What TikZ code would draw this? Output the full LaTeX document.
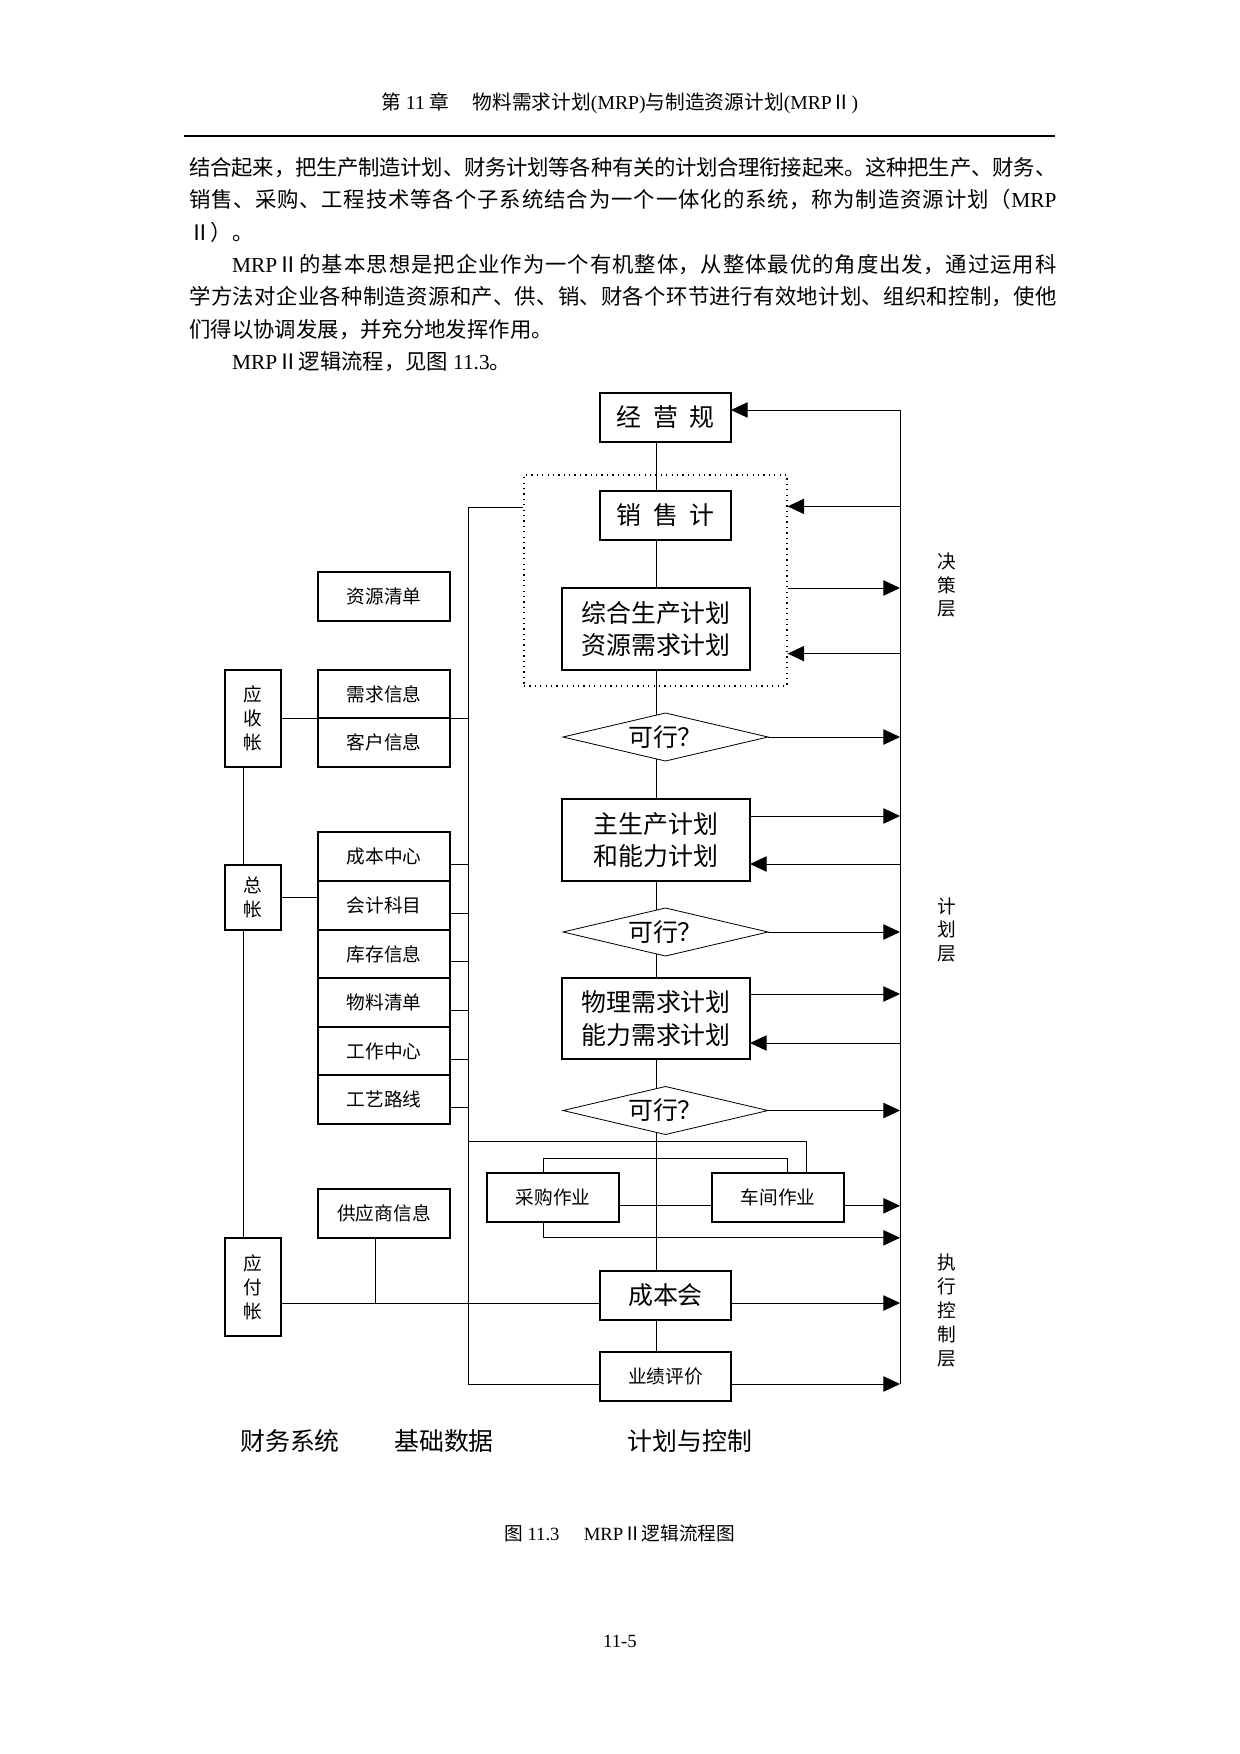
\documentclass[tikz,border=0pt]{standalone}
\usepackage{fontspec}
\setmainfont{Noto Sans CJK SC}
\newfontfamily\lat{Liberation Serif}
\usepackage{tikz}
\usetikzlibrary{shapes,positioning,arrows.meta}
\pgfdeclarelayer{background}
\pgfsetlayers{background,main}
\XeTeXlinebreaklocale "zh"
\XeTeXlinebreakskip=0pt plus 1pt minus 0.3pt
\newcommand{\pxl}{0.169355mm}

\tikzset{
  plan/.style={draw, fill=white, line width=0.9pt, inner sep=0pt, outer sep=0pt,
    align=center, font=\fontsize{12}{15.6}\selectfont},
  datum/.style={draw, fill=white, line width=0.9pt, inner sep=0pt, outer sep=0pt,
    minimum width=132*\pxl, minimum height=48.6*\pxl, font=\fontsize{9}{11}\selectfont},
  ledger/.style={draw, line width=0.9pt, inner sep=0pt, outer sep=0pt,
    minimum width=56*\pxl, align=center, font=\fontsize{9}{11.56}\selectfont},
  check/.style={draw, fill=white, diamond, aspect=4.27, inner sep=0pt, outer sep=0pt,
    minimum width=205*\pxl, minimum height=48*\pxl, font=\fontsize{12}{14.5}\selectfont},
  layer/.style={align=center, inner sep=0pt, font=\fontsize{9}{11.56}\selectfont},
  part/.style={inner sep=0pt, font=\fontsize{12}{14.5}\selectfont}
}

\begin{document}
\begin{tikzpicture}[x=0.169355mm, y=-0.169355mm, line width=0.75pt,
  >={Triangle[length=8pt,width=7.4pt]}]

\begin{pgfonlayer}{background}
\fill[white] (0,0) rectangle (1240,1754);
\end{pgfonlayer}

% page text
\node[font=\fontsize{9.5}{11}\selectfont] (hdr) at (620,103)
  {第 {\lat 11} 章\hspace{1.2em}物料需求计划{\lat (MRP)}与制造资源计划{\lat (MRP}Ⅱ{\lat )}};
\draw[line width=1pt] (184,136) -- (1055,136);

\node[anchor=north west, inner sep=0pt, text width=867*\pxl, align=justify,
  font=\fontsize{10.3}{15.56}\selectfont] (body) at (189,157) {%
结合起来，把生产制造计划、财务计划等各种有关的计划合理衔接起来。这种把生产、财务、\linebreak 销售、采购、工程技术等各个子系统结合为一个一体化的系统，称为制造资源计划（{\lat MRP}\linebreak Ⅱ）。\par
\hspace*{2em}{\lat MRP}Ⅱ的基本思想是把企业作为一个有机整体，从整体最优的角度出发，通过运用科\linebreak 学方法对企业各种制造资源和产、供、销、财各个环节进行有效地计划、组织和控制，使他\linebreak 们得以协调发展，并充分地发挥作用。\par
\hspace*{2em}{\lat MRP}Ⅱ逻辑流程，见图 {\lat 11.3}。};

% planning column
\node[plan, minimum width=131*\pxl, minimum height=49*\pxl] (jyg) at (665.5,417.5)
  {经\hspace{5.8pt}营\hspace{5.8pt}规};

\node[draw, dotted, line width=0.6pt, inner sep=0pt,
  minimum width=263*\pxl, minimum height=211*\pxl] (grp) at (655.5,580.5) {};

\node[plan, minimum width=131*\pxl, minimum height=49*\pxl] (xsj) at (665.5,515.5)
  {销\hspace{5.8pt}售\hspace{5.8pt}计};

\node[plan, minimum width=188*\pxl, minimum height=82*\pxl] (zh) at (656,629)
  {综合生产计划\\资源需求计划};

\node[check] (d1) at (665.5,737) {可行？};

\node[plan, minimum width=188*\pxl, minimum height=82*\pxl] (zsc) at (656,840)
  {主生产计划\\和能力计划};

\node[check] (d2) at (665.5,932) {可行？};

\node[plan, minimum width=188*\pxl, minimum height=81*\pxl] (wl) at (656,1018.5)
  {物理需求计划\\能力需求计划};

\node[check] (d3) at (665.5,1110.5) {可行？};

\node[datum] (cg) at (553,1197.5) {采购作业};
\node[datum] (cj) at (778,1197.5) {车间作业};

\node[plan, minimum width=131*\pxl, minimum height=49*\pxl] (cbh) at (665.5,1295.5) {成本会};
\node[datum, minimum width=131*\pxl] (yj) at (665.5,1376.5) {业绩评价};

% basic data column
\node[datum] (zyqd) at (384,596.6) {资源清单};
\node[datum] (xqxx) at (384,693.9) {需求信息};
\node[datum, below=0pt of xqxx] (khxx) {客户信息};

\node[datum] (cbzx) at (384,856.7) {成本中心};
\node[datum, below=0pt of cbzx] (kjkm) {会计科目};
\node[datum, below=0pt of kjkm] (kcxx) {库存信息};
\node[datum, below=0pt of kcxx] (wlqd) {物料清单};
\node[datum, below=0pt of wlqd] (gzzx) {工作中心};
\node[datum, below=0pt of gzzx] (gylx) {工艺路线};

\node[datum] (gysxx) at (384,1213.5) {供应商信息};

% finance column
\node[ledger, minimum height=97*\pxl] (ysz) at (253,718.5) {应\\收\\帐};
\node[ledger, minimum height=65*\pxl] (zz) at (253,897.2) {总\\帐};
\node[ledger, minimum height=98*\pxl] (yfz) at (253,1287) {应\\付\\帐};

% labels
\node[layer] (jcc) at (947,585) {决\\策\\层};
\node[layer] (jhc) at (947,930) {计\\划\\层};
\node[layer] (zxc) at (947,1310) {执\\行\\控\\制\\层};

\node[part] (cwxt) at (290,1441) {财务系统};
\node[part] (jcsj) at (444,1441) {基础数据};
\node[part] (jhkz) at (690,1441) {计划与控制};

\node[font=\fontsize{9}{11}\selectfont] (cap) at (620,1533)
  {图 {\lat 11.3}\hspace{1.3em}{\lat MRP}Ⅱ逻辑流程图};
\node[font=\lat\fontsize{9}{11}\selectfont] (pg) at (620,1641) {11-5};

% buses
\coordinate (lt) at (468,507);
\coordinate (lb) at (468,1384);
\coordinate (rt) at (900,410);
\coordinate (rb) at (900,1384);

\begin{pgfonlayer}{background}
\draw (jyg.south -| zh.north) -- (yj.north -| zh.north);
\end{pgfonlayer}

\draw (lt) -- (lb);
\draw (rt) -- (rb);
\draw (lt) -- (lt -| grp.west);
\draw (lb) -- (lb -| yj.west);

% left side
\draw (ysz.east) -- (ysz.east -| xqxx.west);
\draw (xqxx.south east) -- (xqxx.south east -| lt);
\draw ([yshift=-8*\pxl]cbzx.east) -- ([yshift=-8*\pxl]cbzx.east -| lt);
\draw ([yshift=-8*\pxl]kjkm.east) -- ([yshift=-8*\pxl]kjkm.east -| lt);
\draw ([yshift=-8*\pxl]kcxx.east) -- ([yshift=-8*\pxl]kcxx.east -| lt);
\draw ([yshift=-8*\pxl]wlqd.east) -- ([yshift=-8*\pxl]wlqd.east -| lt);
\draw ([yshift=-8*\pxl]gzzx.east) -- ([yshift=-8*\pxl]gzzx.east -| lt);
\draw ([yshift=-8*\pxl]gylx.east) -- ([yshift=-8*\pxl]gylx.east -| lt);
\draw (zz.east) -- (zz.east -| kjkm.west);
\draw ([xshift=-10*\pxl]ysz.south) -- ([xshift=-10*\pxl]zz.north);
\draw ([xshift=-10*\pxl]zz.south) -- ([xshift=-10*\pxl]yfz.north);

% right side
\draw[->] (rt) -- (rt -| jyg.east);
\draw[->] ([yshift=-32*\pxl]grp.north east -| rt) -- ([yshift=-32*\pxl]grp.north east);
\draw[->] (zh.north -| grp.east) -- (zh.north -| rt);
\draw[->] ([yshift=33*\pxl]grp.south east -| rt) -- ([yshift=33*\pxl]grp.south east);
\draw[->] (d1.east) -- (d1.east -| rt);
\draw[->] ([yshift=-17*\pxl]zsc.north east) -- ([yshift=-17*\pxl]zsc.north east -| rt);
\draw[->] ([yshift=17*\pxl]zsc.south east -| rt) -- ([yshift=17*\pxl]zsc.south east);
\draw[->] (d2.east) -- (d2.east -| rt);
\draw[->] ([yshift=-16*\pxl]wl.north east) -- ([yshift=-16*\pxl]wl.north east -| rt);
\draw[->] ([yshift=16*\pxl]wl.south east -| rt) -- ([yshift=16*\pxl]wl.south east);
\draw[->] (d3.east) -- (d3.east -| rt);
\draw[->] ([yshift=16*\pxl]cj.south east) -- ([yshift=16*\pxl]cj.south east -| rt);
\draw[->] ([xshift=-10*\pxl]cg.south) |- (gysxx.south -| rt);
\draw[->] ([yshift=17*\pxl]cbh.south east) -- ([yshift=17*\pxl]cbh.south east -| rt);
\draw[->] (yj.east |- rb) -- (rb);

% operations
\coordinate (cjup) at ([xshift=28*\pxl, yshift=32*\pxl]cj.north);
\draw (cj.north -| cjup) -- (cjup) -- (cjup -| lt);
\coordinate (cgup) at ([xshift=-10*\pxl, yshift=15*\pxl]cg.north);
\coordinate (cjin) at ([xshift=9*\pxl]cj.north);
\draw (cg.north -| cgup) -- (cgup) -| (cjin);
\draw ([yshift=16*\pxl]cg.south east) -- ([yshift=16*\pxl]cj.south west);
\coordinate (cbin) at ([yshift=17*\pxl]cbh.south west);
\draw (cbin -| yfz.east) -- (cbin);
\draw ([xshift=-9*\pxl]gysxx.south) -- ([xshift=-9*\pxl]gysxx.south |- cbin);

\end{tikzpicture}
\end{document}
